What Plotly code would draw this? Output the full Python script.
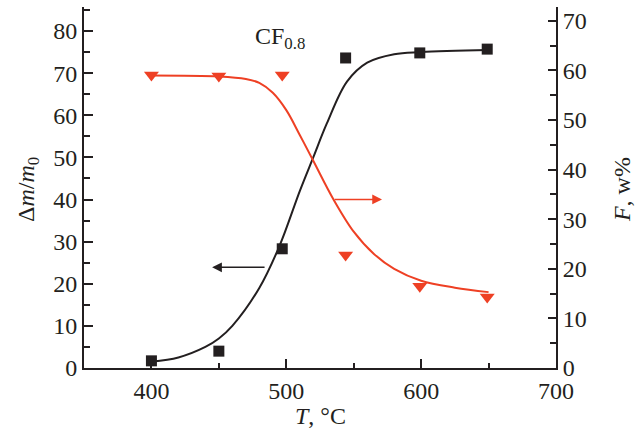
import plotly.graph_objects as go

# Measured data
T_pts = [400, 450, 497, 544, 599, 649]
dm_pts = [1.7, 4.0, 28.3, 73.6, 74.8, 75.7]
F_pts = [59.1, 58.9, 59.1, 22.8, 16.5, 14.3]

# Fitted curves
T_fit_dm = [400, 420, 440, 450, 460, 480, 495, 510, 520, 530, 545, 560, 580, 600, 650]
dm_fit = [1.5, 2.5, 5, 7, 10, 19, 29, 42, 50, 58, 68, 72.5, 74.5, 75, 75.5]
T_fit_F = [400, 450, 470, 480, 490, 500, 510, 520, 535, 550, 565, 580, 600, 625, 650]
F_fit = [59, 58.8, 58.3, 57.5, 55.5, 52, 47, 41.8, 34, 27.5, 23, 20, 17.6, 16.2, 15.3]

x_ticks = [400, 500, 600, 700]
yl_ticks = [0, 10, 20, 30, 40, 50, 60, 70, 80]
yr_ticks = [0, 10, 20, 30, 40, 50, 60, 70]

BLACK = "#231F20"
RED = "#EE4024"
FONT = "Times New Roman, Liberation Serif, serif"

fig = go.Figure()
fig.add_trace(go.Scatter(x=T_fit_dm, y=dm_fit, mode="lines", line=dict(color=BLACK, width=2, shape="spline"), yaxis="y"))
fig.add_trace(go.Scatter(x=T_fit_F, y=F_fit, mode="lines", line=dict(color=RED, width=2, shape="spline"), yaxis="y2"))
fig.add_trace(go.Scatter(x=T_pts, y=dm_pts, mode="markers", marker=dict(symbol="square", size=11, color=BLACK), yaxis="y"))
fig.add_trace(go.Scatter(x=T_pts, y=F_pts, mode="markers", marker=dict(symbol="triangle-down", size=13, color=RED), yaxis="y2"))

axis_common = dict(showline=True, linecolor=BLACK, linewidth=2, ticks="inside", tickwidth=1.5,
                   tickcolor=BLACK, showgrid=False, zeroline=False,
                   tickfont=dict(family=FONT, size=24, color=BLACK))

fig.update_layout(
    width=641, height=436,
    margin=dict(l=84, r=85, t=7, b=68),
    paper_bgcolor="white", plot_bgcolor="white",
    showlegend=False,
    xaxis=dict(range=[350, 700], tickvals=x_ticks, ticklen=9,
               minor=dict(dtick=50, tick0=0, ticklen=5, ticks="inside", tickcolor=BLACK, tickwidth=1.5),
               **axis_common),
    yaxis=dict(range=[0, 85.7], tickvals=yl_ticks, ticklen=9,
               minor=dict(dtick=5, tick0=0, ticklen=6, ticks="inside", tickcolor=BLACK, tickwidth=1.5),
               **axis_common),
    yaxis2=dict(range=[0, 72.8], tickvals=yr_ticks, ticklen=8, overlaying="y", side="right",
                minor=dict(dtick=5, tick0=0, ticklen=6, ticks="inside", tickcolor=BLACK, tickwidth=1.5),
                **axis_common),
)

tf = dict(family=FONT, size=24, color=BLACK)
annots = [
    dict(text="Δ<i>m</i>/<i>m</i><sub>0</sub>", xref="paper", yref="paper", x=-0.1186, y=0.493,
         xanchor="center", yanchor="middle", textangle=-90, showarrow=False, font=tf),
    dict(text="<i>F</i>, w%", xref="paper", yref="paper", x=1.140, y=0.493,
         xanchor="center", yanchor="middle", textangle=-90, showarrow=False, font=tf),
    dict(text="<i>T</i>, °C", xref="paper", yref="paper", x=0.5, y=-0.132,
         xanchor="center", yanchor="middle", showarrow=False, font=tf),
    dict(text="CF<sub>0.8</sub>", xref="x", yref="y", x=495, y=78.4,
         xanchor="center", yanchor="middle", showarrow=False, font=tf),
    dict(x=445, y=23.9, ax=485, ay=23.9, xref="x", yref="y", axref="x", ayref="y",
         showarrow=True, arrowhead=2, arrowsize=1.3, arrowwidth=1.5, arrowcolor=BLACK, text=""),
    dict(x=571, y=34, ax=534.7, ay=34, xref="x", yref="y2", axref="x", ayref="y2",
         showarrow=True, arrowhead=2, arrowsize=1.3, arrowwidth=1.5, arrowcolor=RED, text=""),
]
fig.update_layout(annotations=annots)

fig.write_html("out.html")
